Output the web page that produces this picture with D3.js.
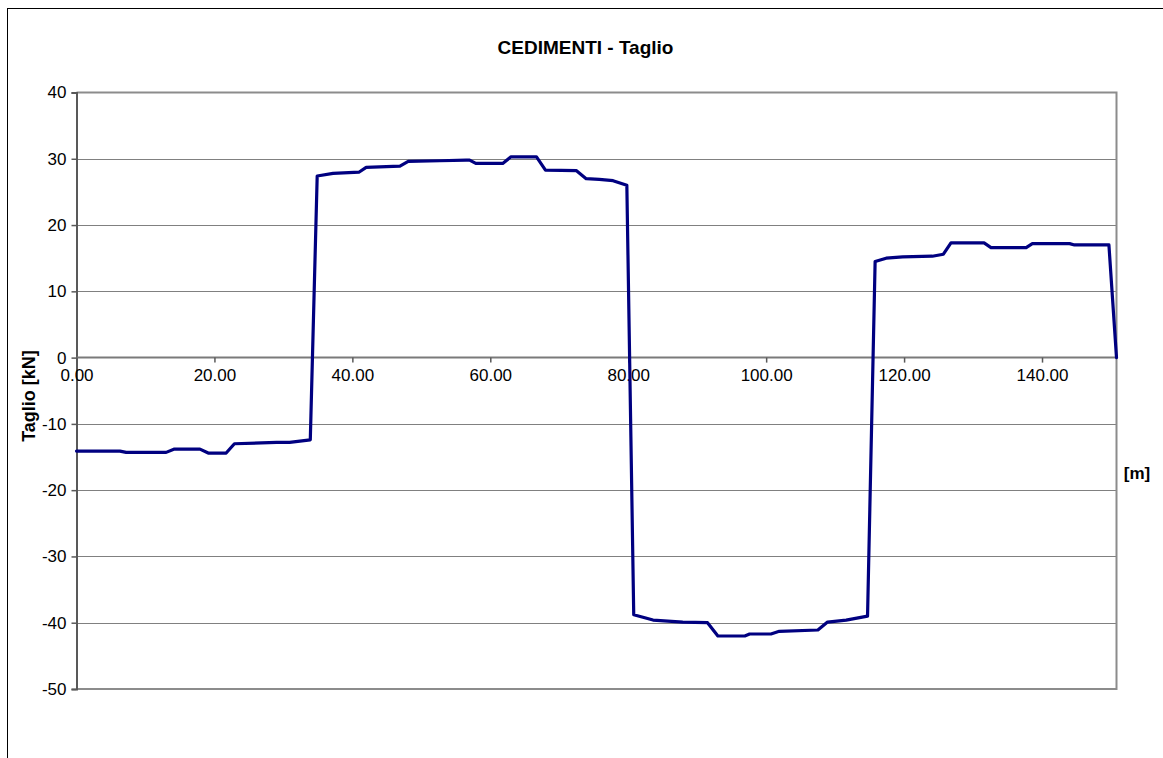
<!DOCTYPE html>
<html>
<head>
<meta charset="utf-8">
<script src="https://cdn.jsdelivr.net/npm/d3@7"></script>
<style>
  html, body { margin: 0; padding: 0; background: #fff; }
  svg { display: block; }
</style>
</head>
<body>
<svg id="chart" width="1163" height="758"></svg>
<script>
// Data
const positions = [0, 6.3, 7.2, 13.0, 14.2, 17.9, 19.1, 21.7, 22.9, 29.0, 30.9, 33.9,
  34.9, 37.2, 41.0, 42.0, 46.9, 48.1, 52.7, 56.5, 57.0, 57.9, 61.8, 63.0, 66.7, 68.0,
  72.5, 73.9, 75.8, 77.8, 79.8, 80.8, 83.6, 87.9, 91.5, 93.0, 96.9, 97.6, 100.7, 101.9,
  107.5, 108.9, 111.6, 114.7, 115.8, 117.4, 119.8, 124.1, 125.7, 126.8, 131.6, 132.6,
  137.7, 138.6, 144.0, 144.7, 149.7, 150.8];
const taglio = [-14.1, -14.1, -14.3, -14.3, -13.8, -13.8, -14.4, -14.4, -13.0, -12.8, -12.8, -12.4,
  27.4, 27.8, 28.0, 28.7, 28.9, 29.6, 29.7, 29.8, 29.8, 29.3, 29.3, 30.3, 30.3, 28.3,
  28.2, 27.0, 26.9, 26.7, 26.0, -38.8, -39.6, -39.9, -40.0, -42.0, -42.0, -41.7, -41.7, -41.3,
  -41.1, -39.9, -39.6, -39.0, 14.5, 15.0, 15.2, 15.3, 15.6, 17.3, 17.3, 16.6,
  16.6, 17.2, 17.2, 17.0, 17.0, 0];
const xTicks = [0, 20, 40, 60, 80, 100, 120, 140];
const yTicks = [40, 30, 20, 10, 0, -10, -20, -30, -40, -50];
const titleText = "CEDIMENTI - Taglio";
const yTitle = "Taglio [kN]";
const xTitle = "[m]";

const svg = d3.select("#chart");
const L = 76.5, T = 92.5, R = 1116.5, B = 689;
const FONT = "Liberation Sans, Arial, sans-serif";

const x = d3.scaleLinear().domain([0, 150.8]).range([L, R]);
const y = d3.scaleLinear().domain([-50, 40]).range([B, T]);

// outer chart frame
svg.append("rect").attr("x", 7.5).attr("y", 8.5).attr("width", 1300).attr("height", 900)
  .attr("fill", "#fff").attr("stroke", "#000").attr("stroke-width", 1);

// title
svg.append("text").attr("x", 585.5).attr("y", 53.5).attr("text-anchor", "middle")
  .attr("font-family", FONT).attr("font-weight", "bold")
  .attr("font-size", 19).text(titleText);

// gridlines (dotted)
svg.append("g").selectAll("line").data(yTicks.filter(d => d !== 40 && d !== 0 && d !== -50))
  .join("line")
  .attr("x1", L).attr("x2", R)
  .attr("y1", d => Math.round(y(d)) + 0.5).attr("y2", d => Math.round(y(d)) + 0.5)
  .attr("stroke", "#000").attr("stroke-width", 1).attr("stroke-dasharray", "1,1");

// plot area border (top, right, bottom)
svg.append("path")
  .attr("d", `M${L},${T}H${R}V${B}H${L}`)
  .attr("fill", "none").attr("stroke", "#8c8c8c").attr("stroke-width", 2);

// y axis
const yAxis = d3.axisLeft(y).tickValues(yTicks).tickSize(5).tickPadding(5).tickFormat(d => String(d));
const gy = svg.append("g").attr("transform", `translate(${L},0)`).call(yAxis);
gy.select(".domain").attr("stroke", "#595959").attr("stroke-width", 2);
gy.selectAll(".tick line").attr("stroke", "#595959").attr("stroke-width", 1.5);
gy.selectAll(".tick text").attr("font-family", FONT)
  .attr("font-size", 17).attr("fill", "#000");

// x axis at zero
const xAxis = d3.axisBottom(x).tickValues(xTicks).tickSize(5).tickPadding(6).tickFormat(d => d.toFixed(2));
const gx = svg.append("g").attr("transform", `translate(0,${y(0)})`).call(xAxis);
gx.select(".domain").attr("stroke", "#7a7a7a").attr("stroke-width", 2)
  .attr("d", `M${L},0H${R}`);
gx.selectAll(".tick line").attr("stroke", "#595959").attr("stroke-width", 1.5);
gx.selectAll(".tick text").attr("font-family", FONT)
  .attr("font-size", 17).attr("fill", "#000");

// line
const line = d3.line().x((d, i) => x(positions[i])).y(d => y(d));
svg.append("path").datum(taglio)
  .attr("d", line)
  .attr("fill", "none").attr("stroke", "#000080").attr("stroke-width", 3.2)
  .attr("stroke-linejoin", "round").attr("stroke-linecap", "round");

// axis titles
svg.append("text").attr("transform", "translate(35,396) rotate(-90)")
  .attr("text-anchor", "middle")
  .attr("font-family", FONT).attr("font-weight", "bold")
  .attr("font-size", 18).text(yTitle);
svg.append("text").attr("x", 1137).attr("y", 479).attr("text-anchor", "middle")
  .attr("font-family", FONT).attr("font-weight", "bold")
  .attr("font-size", 17).text(xTitle);
</script>
</body>
</html>
